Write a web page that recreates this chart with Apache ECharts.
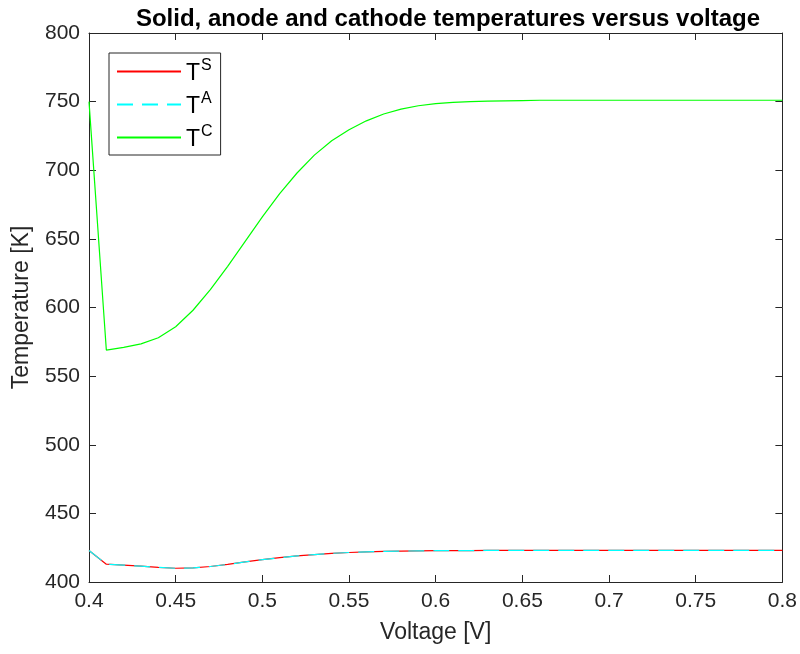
<!DOCTYPE html>
<html>
<head>
<meta charset="utf-8">
<style>
  html, body { margin: 0; padding: 0; background: #fff; }
  #chart { width: 800px; height: 654px; }
</style>
<script src="https://cdn.jsdelivr.net/npm/echarts@6/dist/echarts.min.js"></script>
</head>
<body>
<div id="chart"></div>
<script>
// Voltage sweep [V]
const voltage = [
  0.40, 0.41, 0.42, 0.43, 0.44, 0.45, 0.46, 0.47, 0.48, 0.49,
  0.50, 0.51, 0.52, 0.53, 0.54, 0.55, 0.56, 0.57, 0.58, 0.59,
  0.60, 0.61, 0.62, 0.63, 0.64, 0.65, 0.66, 0.67, 0.68, 0.69,
  0.70, 0.71, 0.72, 0.73, 0.74, 0.75, 0.76, 0.77, 0.78, 0.79,
  0.80
];

// Solid temperature [K]
const tSolid = [
  423, 413, 412.3, 411.5, 410.7, 410, 410.3, 411.3, 412.8, 414.6,
  416.3, 417.7, 419, 420, 420.9, 421.5, 422, 422.3, 422.5, 422.7,
  422.8, 422.9, 422.9, 423, 423, 423, 423, 423, 423, 423,
  423, 423, 423, 423, 423, 423, 423, 423, 423, 423,
  423
];

// Anode temperature [K]
const tAnode = [
  423, 413, 412.3, 411.5, 410.7, 410, 410.3, 411.3, 412.8, 414.6,
  416.3, 417.7, 419, 420, 420.9, 421.5, 422, 422.3, 422.5, 422.7,
  422.8, 422.9, 422.9, 423, 423, 423, 423, 423, 423, 423,
  423, 423, 423, 423, 423, 423, 423, 423, 423, 423,
  423
];

// Cathode temperature [K]
const tCathode = [
  750, 569, 571, 573.5, 578, 586, 598, 613, 630, 648,
  666, 683, 698, 711, 721.5, 729.5, 736, 741, 744.5, 747,
  748.5, 749.4, 750, 750.4, 750.6, 750.8, 751, 751, 751, 751,
  751, 751, 751, 751, 751, 751, 751, 751, 751, 751,
  751
];

const seriesNames = ['TS', 'TA', 'TC'];
const superscripts = { TS: 'S', TA: 'A', TC: 'C' };

const pairs = (ys) => voltage.map((v, i) => [v, ys[i]]);

const FONT = '"Liberation Sans", Arial, Helvetica, sans-serif';
const AXIS_COLOR = '#262626';

const fmtX = (v) => String(parseFloat(v.toFixed(2)));

const baseX = {
  type: 'value', min: 0.4, max: 0.8, interval: 0.05,
  axisLine: { show: true, onZero: false, lineStyle: { color: AXIS_COLOR, width: 1 } },
  axisTick: { show: true, inside: true, length: 7, lineStyle: { color: AXIS_COLOR } },
  splitLine: { show: false }
};
const baseY = {
  type: 'value', min: 400, max: 800, interval: 50,
  axisLine: { show: true, onZero: false, lineStyle: { color: AXIS_COLOR, width: 1 } },
  axisTick: { show: true, inside: true, length: 7, lineStyle: { color: AXIS_COLOR } },
  splitLine: { show: false }
};

const chart = echarts.init(document.getElementById('chart'), null, { renderer: 'canvas' });

chart.setOption({
  backgroundColor: '#ffffff',
  animation: false,
  title: {
    text: 'Solid, anode and cathode temperatures versus voltage',
    left: 443, top: 2, textAlign: 'center',
    textStyle: { fontFamily: FONT, fontWeight: 'bold', fontSize: 24, color: '#000' }
  },
  grid: { left: 89, right: 17, top: 33, bottom: 72, containLabel: false },
  legend: {
    orient: 'vertical',
    left: 109, top: 53,
    padding: [5, 8, 3, 7],
    itemWidth: 64, itemHeight: 12, itemGap: 5,
    backgroundColor: '#fff',
    borderColor: AXIS_COLOR, borderWidth: 1,
    data: seriesNames,
    itemStyle: { opacity: 0 },
    formatter: (name) => '{t|T}{s|' + superscripts[name] + '}',
    textStyle: {
      fontFamily: FONT, color: '#000',
      rich: {
        t: { fontFamily: FONT, fontSize: 23, color: '#000', lineHeight: 27, verticalAlign: 'bottom' },
        s: { fontFamily: FONT, fontSize: 16, color: '#000', lineHeight: 27, verticalAlign: 'top', padding: [0, 0, 12, 1] }
      }
    }
  },
  xAxis: [
    Object.assign({}, baseX, {
      position: 'bottom',
      name: 'Voltage [V]', nameLocation: 'middle', nameGap: 39,
      nameTextStyle: { fontFamily: FONT, fontSize: 23, color: AXIS_COLOR },
      axisLabel: { fontFamily: FONT, fontSize: 21, color: AXIS_COLOR, margin: 9, formatter: fmtX }
    }),
    Object.assign({}, baseX, { position: 'top', axisLabel: { show: false } })
  ],
  yAxis: [
    Object.assign({}, baseY, {
      position: 'left',
      name: 'Temperature [K]', nameLocation: 'middle', nameGap: 56,
      nameTextStyle: { fontFamily: FONT, fontSize: 23, color: AXIS_COLOR },
      axisLabel: { fontFamily: FONT, fontSize: 21, color: AXIS_COLOR, margin: 9 }
    }),
    Object.assign({}, baseY, { position: 'right', axisLabel: { show: false } })
  ],
  series: [
    {
      name: 'TS', type: 'line', data: pairs(tSolid),
      showSymbol: false, symbol: 'none',
      lineStyle: { color: '#ff0000', width: 1.2 },
      itemStyle: { color: '#ff0000' }
    },
    {
      name: 'TA', type: 'line', data: pairs(tAnode),
      showSymbol: false, symbol: 'none',
      lineStyle: { color: '#00ffff', width: 1.2, type: [16, 9] },
      itemStyle: { color: '#00ffff' }
    },
    {
      name: 'TC', type: 'line', data: pairs(tCathode),
      showSymbol: false, symbol: 'none',
      lineStyle: { color: '#00ff00', width: 1.2 },
      itemStyle: { color: '#00ff00' }
    }
  ]
});
</script>
</body>
</html>
